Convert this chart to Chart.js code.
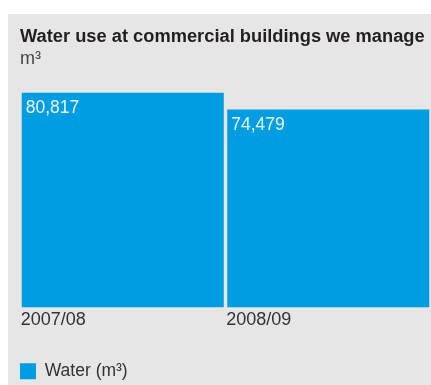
<!DOCTYPE html>
<html>
<head>
<meta charset="utf-8">
<script src="https://cdn.jsdelivr.net/npm/chart.js@4/dist/chart.umd.min.js"></script>
<style>
  html, body { margin: 0; padding: 0; background: #fff; overflow: hidden; }
  .panel {
    position: absolute;
    left: 8px;
    top: 14px;
    width: 423px;
    height: 381px;
    background: #e6e6e6;
  }
</style>
</head>
<body>
<div class="panel"><canvas id="water"></canvas></div>
<script>
const years = ["2007/08", "2008/09"];
const water = [80817, 74479];
const seriesName = "Water (m³)";

const blue = "#009ee0";
const font = "'Liberation Sans', Arial, sans-serif";

// value printed in the top-left corner of each bar
const valueLabels = {
  id: "valueLabels",
  afterDatasetsDraw(chart) {
    const { ctx } = chart;
    const bars = chart.getDatasetMeta(0).data;
    ctx.save();
    ctx.textAlign = "left";
    ctx.textBaseline = "top";
    ctx.font = `17.5px ${font}`;
    ctx.fillStyle = "#eaf6fc";
    bars.forEach((bar, i) => {
      const left = bar.x - bar.width / 2;
      ctx.fillText(water[i].toLocaleString("en-GB"), left + 4, bar.y + 7);
    });
    ctx.restore();
  },
};

new Chart(document.getElementById("water"), {
  type: "bar",
  plugins: [valueLabels],
  data: {
    labels: years,
    datasets: [
      {
        label: seriesName,
        data: water,
        backgroundColor: blue,
        borderWidth: 0,
        categoryPercentage: 1,
        barPercentage: 202 / 205.5,
      },
    ],
  },
  options: {
    animation: false,
    responsive: true,
    maintainAspectRatio: false,
    layout: {
      padding: { left: 12, right: 0, top: 0, bottom: 5 },
    },
    plugins: {
      tooltip: { enabled: false },
      title: {
        display: true,
        text: "Water use at commercial buildings we manage",
        align: "start",
        color: "#231f20",
        font: { family: font, size: 18.3, weight: "bold" },
        padding: { top: 12, bottom: 0 },
      },
      subtitle: {
        display: true,
        text: "m³",
        align: "start",
        color: "#444444",
        font: { family: font, size: 18 },
        padding: { top: 0, bottom: 23 },
      },
      legend: {
        position: "bottom",
        align: "start",
        labels: {
          color: "#333333",
          font: { family: font, size: 17.5 },
          boxWidth: 16,
          boxHeight: 16,
          padding: 0,
        },
      },
    },
    scales: {
      x: {
        grid: { display: false, drawTicks: false, tickLength: 0 },
        border: { display: false },
        ticks: {
          align: "start",
          labelOffset: -102,
          padding: 2,
          color: "#333333",
          font: { family: font, size: 18 },
        },
        // leave room between the year labels and the legend
        afterFit(scale) {
          scale.height = 55;
        },
      },
      y: {
        display: false,
        min: 0,
        max: Math.max(...water),
      },
    },
  },
});
</script>
</body>
</html>
